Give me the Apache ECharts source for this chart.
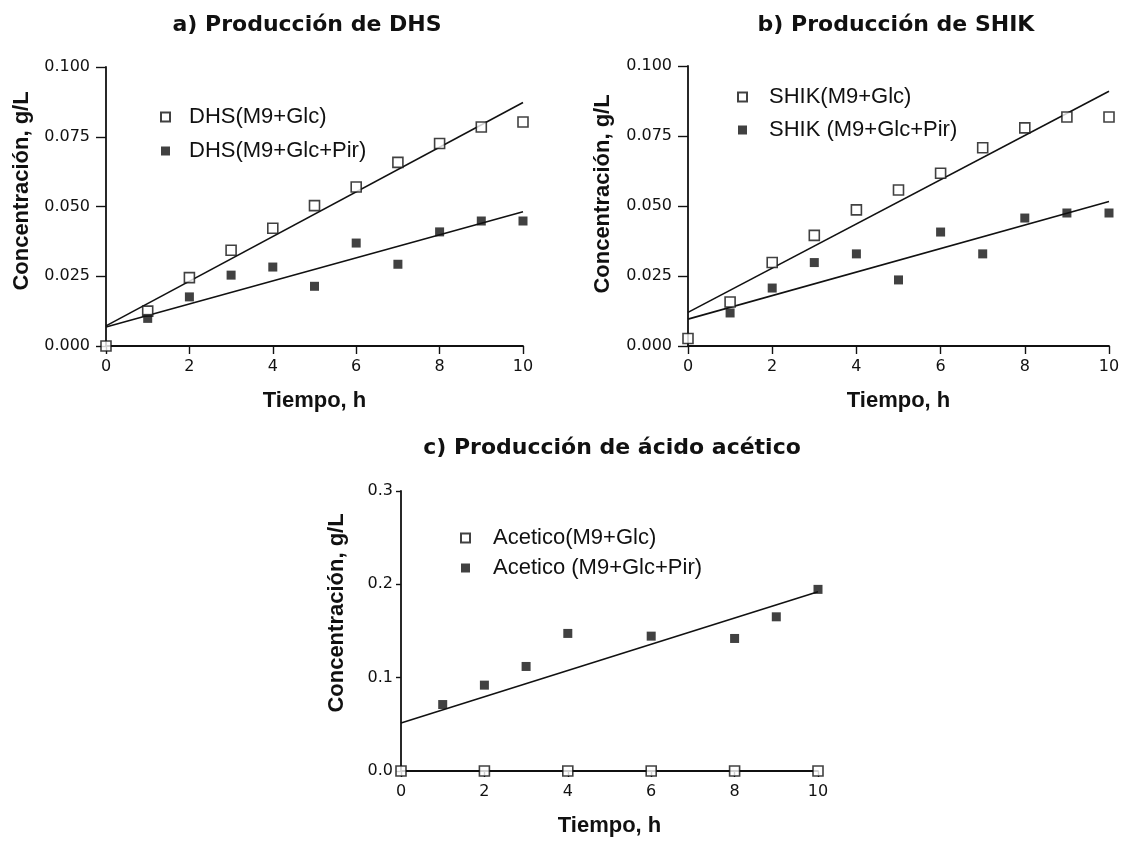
<!DOCTYPE html>
<html>
<head>
<meta charset="utf-8">
<script src="https://cdn.jsdelivr.net/npm/echarts@6/dist/echarts.min.js"></script>
<style>
  html, body { margin: 0; padding: 0; background: #fff; }
  #chart { width: 1126px; height: 842px; }
</style>
</head>
<body>
<div id="chart"></div>
<script>
// Tiempo (h) y concentraciones (g/L)
const tiempo = [0, 1, 2, 3, 4, 5, 6, 7, 8, 9, 10];
const tiempoPir = [1, 2, 3, 4, 5, 6, 7, 8, 9, 10];

// a) DHS
const dhsGlc = [0.0000, 0.0125, 0.0245, 0.0343, 0.0422, 0.0503, 0.0570, 0.0658, 0.0726, 0.0785, 0.0803];
const dhsGlcPir = [0.0099, 0.0176, 0.0254, 0.0283, 0.0214, 0.0369, 0.0293, 0.0409, 0.0448, 0.0448];
const dhsAjusteGlc = [0.0072, 0.0873];     // recta ajustada en t = 0 y t = 10
const dhsAjusteGlcPir = [0.0068, 0.0481];

// b) SHIK
const shikGlc = [0.0027, 0.0157, 0.0298, 0.0395, 0.0486, 0.0557, 0.0617, 0.0708, 0.0779, 0.0818, 0.0818];
const shikGlcPir = [0.0118, 0.0207, 0.0298, 0.0329, 0.0236, 0.0407, 0.0329, 0.0457, 0.0475, 0.0475];
const shikAjusteGlc = [0.0120, 0.0910];
const shikAjusteGlcPir = [0.0096, 0.0516];

// c) Ácido acético
const tiempoAcGlc = [0, 2, 4, 6, 8, 10];
const acGlc = [0, 0, 0, 0, 0, 0];
const tiempoAcPir = [1, 2, 3, 4, 6, 8, 9, 10];
const acGlcPir = [0.0712, 0.0920, 0.1120, 0.1474, 0.1445, 0.1420, 0.1652, 0.1946];
const acAjusteGlc = [0, 0];
const acAjusteGlcPir = [0.0515, 0.1920];

const ajusteT = [0, 10];

// Textos
const titulos = ['a) Producción de DHS', 'b) Producción de SHIK', 'c) Producción de ácido acético'];
const ejeY = 'Concentración, g/L';
const ejeX = 'Tiempo, h';
const nombres = [
  ['DHS(M9+Glc)', 'DHS(M9+Glc+Pir)'],
  ['SHIK(M9+Glc)', 'SHIK (M9+Glc+Pir)'],
  ['Acetico(M9+Glc)', 'Acetico (M9+Glc+Pir)']
];

const pares = (xs, ys) => xs.map((x, i) => [x, ys[i]]);

const FONT_TICK = 'DejaVu Sans';
const FONT_TXT = 'Liberation Sans';

function xAxisDef(gi, tickLen) {
  return {
    gridIndex: gi, type: 'value', min: 0, max: 10, interval: 2,
    name: ejeX, nameLocation: 'middle', nameGap: 44,
    nameTextStyle: { fontFamily: FONT_TXT, fontWeight: 'bold', fontSize: 22, color: '#111' },
    axisLine: { onZero: false, lineStyle: { color: '#111', width: 1.8 } },
    axisTick: { show: true, length: tickLen, lineStyle: { color: '#111', width: 1.4 } },
    axisLabel: { margin: 13, fontFamily: FONT_TICK, fontSize: 16, color: '#111' },
    splitLine: { show: false }
  };
}
function yAxisDef(gi, max, interval, dec, tickLen, margin) {
  return {
    gridIndex: gi, type: 'value', min: 0, max: max, interval: interval,
    axisLine: { show: true, onZero: false, lineStyle: { color: '#111', width: 1.8 } },
    axisTick: { show: true, length: tickLen, lineStyle: { color: '#111', width: 1.4 } },
    axisLabel: { margin: margin, fontFamily: FONT_TICK, fontSize: 16, color: '#111',
                 formatter: v => v.toFixed(dec) },
    splitLine: { show: false }
  };
}

const abierto = { color: '#fff', borderColor: '#111', borderWidth: 1.6 };
const lleno = { color: '#111', borderColor: '#111', borderWidth: 0 };

function scatter(name, idx, data, style, size) {
  return {
    name: name, type: 'scatter', xAxisIndex: idx, yAxisIndex: idx,
    data: data, symbol: 'rect', symbolSize: size, itemStyle: style, z: 5
  };
}
function recta(name, idx, ys) {
  return {
    name: name, type: 'line', xAxisIndex: idx, yAxisIndex: idx,
    data: pares(ajusteT, ys), showSymbol: false, symbol: 'none',
    lineStyle: { color: '#111', width: 1.6 }, z: 3
  };
}

function legendDef(idx, left, top, gap, pad) {
  return {
    data: nombres[idx], orient: 'vertical', left: left, top: top,
    itemWidth: 9, itemHeight: 9, itemGap: gap,
    textStyle: { fontFamily: FONT_TXT, fontSize: 22, color: '#111', lineHeight: 22,
                 padding: [0, 0, 0, pad] }
  };
}

function tituloY(x, y) {
  return {
    type: 'text', x: x, y: y, rotation: Math.PI / 2,
    style: { text: ejeY, font: 'bold 22px "Liberation Sans"', fill: '#111',
             textAlign: 'center', textVerticalAlign: 'middle',
             align: 'center', verticalAlign: 'middle' }
  };
}

const chart = echarts.init(document.getElementById('chart'), null, { renderer: 'canvas' });
chart.setOption({
  animation: false,
  backgroundColor: '#fff',
  title: [
    { text: titulos[0], left: 302, top: 9, textAlign: 'center',
      textStyle: { fontFamily: 'DejaVu Sans', fontWeight: 'bold', fontSize: 22, color: '#111' } },
    { text: titulos[1], left: 891, top: 9, textAlign: 'center',
      textStyle: { fontFamily: 'DejaVu Sans', fontWeight: 'bold', fontSize: 22, color: '#111' } },
    { text: titulos[2], left: 607, top: 432, textAlign: 'center',
      textStyle: { fontFamily: 'DejaVu Sans', fontWeight: 'bold', fontSize: 22, color: '#111' } }
  ],
  grid: [
    { left: 106, top: 67, width: 417, height: 279, containLabel: false },
    { left: 688, top: 66, width: 421, height: 280, containLabel: false },
    { left: 401, top: 491, width: 417, height: 280, containLabel: false }
  ],
  xAxis: [xAxisDef(0, 8), xAxisDef(1, 8), xAxisDef(2, 6)],
  yAxis: [
    yAxisDef(0, 0.1, 0.025, 3, 10, 16),
    yAxisDef(1, 0.1, 0.025, 3, 10, 16),
    yAxisDef(2, 0.3, 0.1, 1, 5, 8)
  ],
  legend: [
    legendDef(0, 155, 101, 12, 14),
    legendDef(1, 732, 81, 11, 17),
    legendDef(2, 455, 522, 8, 18)
  ],
  graphic: [tituloY(22, 191), tituloY(603, 194), tituloY(337, 613)],
  series: [
    recta('Ajuste DHS Glc', 0, dhsAjusteGlc),
    recta('Ajuste DHS Glc+Pir', 0, dhsAjusteGlcPir),
    scatter(nombres[0][0], 0, pares(tiempo, dhsGlc), abierto, 10),
    scatter(nombres[0][1], 0, pares(tiempoPir, dhsGlcPir), lleno, 9),

    recta('Ajuste SHIK Glc', 1, shikAjusteGlc),
    recta('Ajuste SHIK Glc+Pir', 1, shikAjusteGlcPir),
    scatter(nombres[1][0], 1, pares(tiempo, shikGlc), abierto, 10),
    scatter(nombres[1][1], 1, pares(tiempoPir, shikGlcPir), lleno, 9),

    recta('Ajuste Acetico Glc', 2, acAjusteGlc),
    recta('Ajuste Acetico Glc+Pir', 2, acAjusteGlcPir),
    scatter(nombres[2][0], 2, pares(tiempoAcGlc, acGlc), abierto, 10),
    scatter(nombres[2][1], 2, pares(tiempoAcPir, acGlcPir), lleno, 9)
  ]
});
</script>
</body>
</html>
